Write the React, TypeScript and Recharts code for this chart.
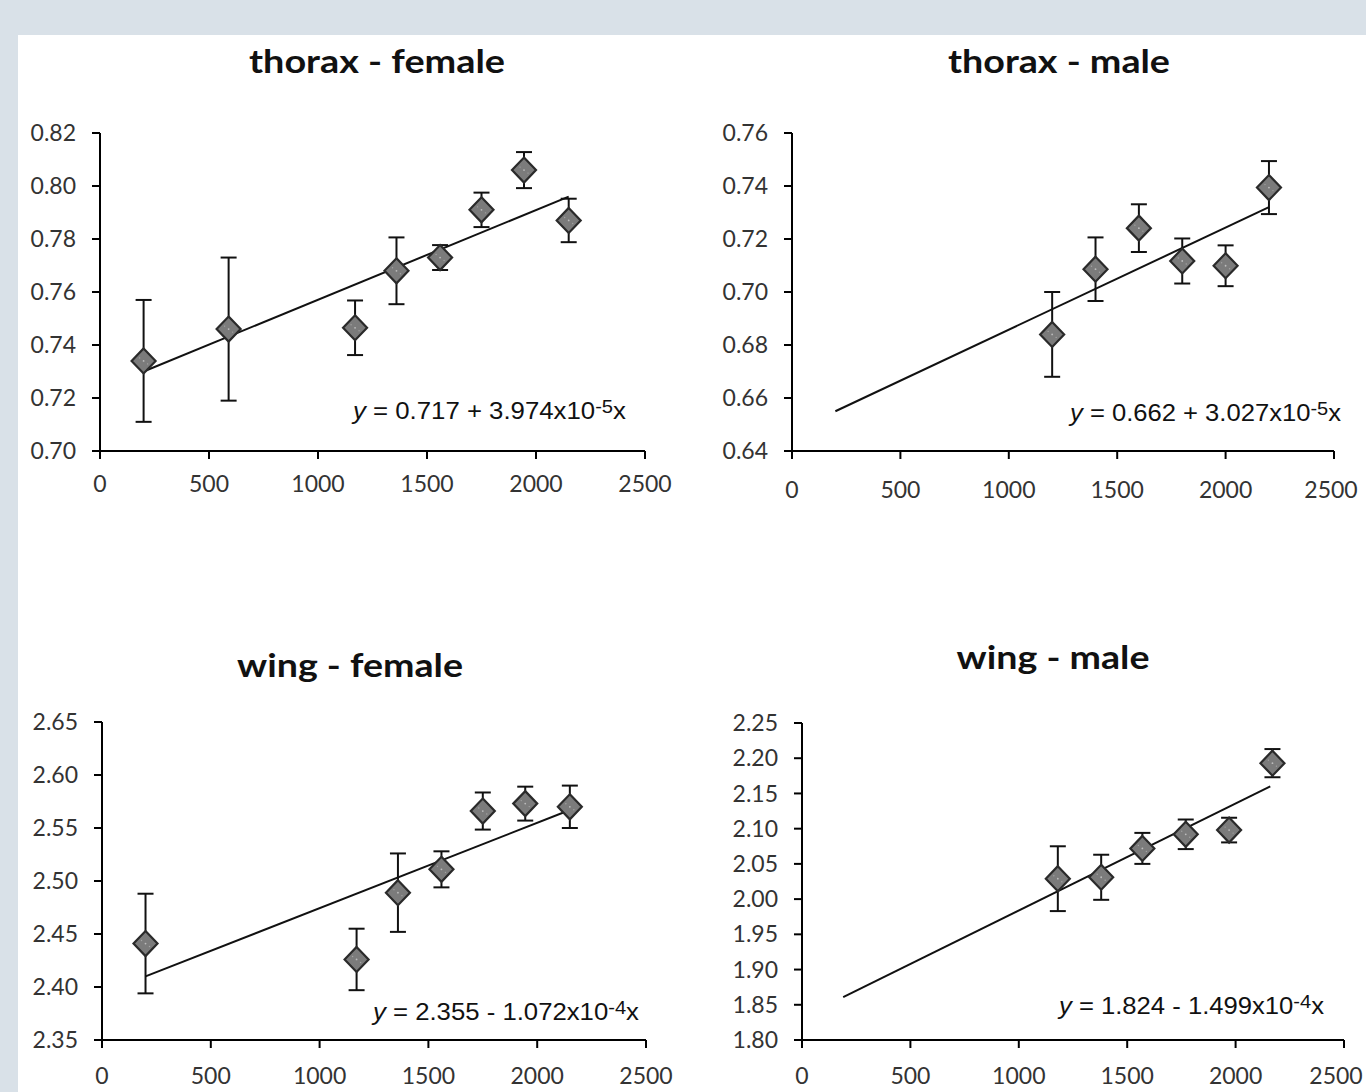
import React from 'react';
import { ScatterChart, Scatter, XAxis, YAxis, ErrorBar } from 'recharts';

// ---------- data ----------
const xTicks = [0, 500, 1000, 1500, 2000, 2500];

const thoraxFemaleX = [200, 590, 1170, 1360, 1560, 1750, 1945, 2150];
const thoraxFemaleY = [0.734, 0.746, 0.7465, 0.768, 0.773, 0.791, 0.806, 0.787];
const thoraxFemaleErr = [0.023, 0.027, 0.0103, 0.0126, 0.0047, 0.0065, 0.0068, 0.0082];
const thoraxFemaleTrendX = [200, 2150];
const thoraxFemaleTrendY = [0.730, 0.796];
const thoraxFemaleTicks = [0.70, 0.72, 0.74, 0.76, 0.78, 0.80, 0.82];

const thoraxMaleX = [1200, 1400, 1600, 1800, 2000, 2200];
const thoraxMaleY = [0.684, 0.7086, 0.7241, 0.7117, 0.7099, 0.7394];
const thoraxMaleErr = [0.016, 0.012, 0.009, 0.0085, 0.0077, 0.010];
const thoraxMaleTrendX = [200, 2200];
const thoraxMaleTrendY = [0.655, 0.732];
const thoraxMaleTicks = [0.64, 0.66, 0.68, 0.70, 0.72, 0.74, 0.76];

const wingFemaleX = [200, 1170, 1360, 1560, 1750, 1945, 2150];
const wingFemaleY = [2.441, 2.426, 2.489, 2.511, 2.566, 2.573, 2.570];
const wingFemaleErr = [0.047, 0.029, 0.037, 0.017, 0.0175, 0.016, 0.020];
const wingFemaleTrendX = [200, 2150];
const wingFemaleTrendY = [2.410, 2.567];
const wingFemaleTicks = [2.35, 2.40, 2.45, 2.50, 2.55, 2.60, 2.65];

const wingMaleX = [1180, 1380, 1570, 1770, 1970, 2170];
const wingMaleY = [2.029, 2.031, 2.072, 2.092, 2.098, 2.193];
const wingMaleErr = [0.046, 0.032, 0.022, 0.021, 0.0175, 0.020];
const wingMaleTrendX = [190, 2160];
const wingMaleTrendY = [1.861, 2.160];
const wingMaleTicks = [1.80, 1.85, 1.90, 1.95, 2.00, 2.05, 2.10, 2.15, 2.20, 2.25];

const titles = ['thorax - female', 'thorax - male', 'wing - female', 'wing - male'];
const eqIntercepts = ['0.717', '0.662', '2.355', '1.824'];
const eqSigns = ['+', '+', '-', '-'];
const eqSlopes = ['3.974', '3.027', '1.072', '1.499'];
const eqExps = ['-5', '-5', '-4', '-4'];

// ---------- helpers ----------
const zip = (xs: number[], ys: number[], es?: number[]) =>
  xs.map((x, i) => (es ? { x, y: ys[i], err: es[i] } : { x, y: ys[i] }));

const Diamond = (props: any) => {
  const { cx, cy } = props;
  if (cx == null || cy == null) return <g />;
  const w = 12;
  const h = 12.5;
  return (
    <g>
      <path
        d={`M${cx},${cy - h} L${cx + w},${cy} L${cx},${cy + h} L${cx - w},${cy} Z`}
        fill="#7b7b7b"
        stroke="#2a2a2a"
        strokeWidth={2.2}
      />
      <circle cx={cx} cy={cy} r={0.9} fill="#bdbdbd" />
      <circle cx={cx - 4} cy={cy - 3} r={0.7} fill="#a5a5a5" />
      <circle cx={cx + 4} cy={cy + 3} r={0.7} fill="#a5a5a5" />
    </g>
  );
};

const NoShape = () => <g />;

const TICK_FONT = 23;

const makeXTick = (lastShift: number) => (props: any) => {
  const { x, y, payload } = props;
  const shift = payload && payload.value === 2500 ? lastShift : 0;
  return (
    <text
      x={x + shift}
      y={y}
      dy="0.71em"
      textAnchor="middle"
      fill="#333"
      fontSize={TICK_FONT}
      fontFamily="Lato, sans-serif"
    >
      {payload.value}
    </text>
  );
};

type PanelProps = {
  left: number;
  top: number;
  width: number;
  height: number;
  margin: { top: number; right: number; bottom: number; left: number };
  yAxisWidth: number;
  xAxisHeight: number;
  xTickMargin: number;
  lastShift: number;
  yTicks: number[];
  points: any[];
  trend: any[];
  idx: number;
  titleX: number;
  titleY: number;
  titleLen: number;
  eqX: number;
  eqY: number;
  eqLen: number;
};

const Panel = (p: PanelProps) => {
  const i = p.idx;
  return (
    <div style={{ position: 'absolute', left: p.left, top: p.top }}>
      <ScatterChart width={p.width} height={p.height} margin={p.margin}>
        <XAxis
          type="number"
          dataKey="x"
          domain={[0, 2500]}
          ticks={xTicks}
          allowDataOverflow
          height={p.xAxisHeight}
          axisLine={{ stroke: '#000', strokeWidth: 2 }}
          tickLine={{ stroke: '#000', strokeWidth: 2 }}
          tickSize={8}
          tickMargin={p.xTickMargin}
          tick={makeXTick(p.lastShift)}
          interval={0}
        />
        <YAxis
          type="number"
          dataKey="y"
          domain={[p.yTicks[0], p.yTicks[p.yTicks.length - 1]]}
          ticks={p.yTicks}
          allowDataOverflow
          width={p.yAxisWidth}
          axisLine={{ stroke: '#000', strokeWidth: 2 }}
          tickLine={{ stroke: '#000', strokeWidth: 2 }}
          tickSize={8}
          tickMargin={16}
          tick={{ fill: '#333', fontSize: TICK_FONT, fontFamily: 'Lato, sans-serif' }}
          tickFormatter={(v: number) => v.toFixed(2)}
          interval={0}
        />
        <Scatter
          data={p.trend}
          line={{ stroke: '#111', strokeWidth: 2 }}
          shape={NoShape}
          isAnimationActive={false}
        />
        <Scatter data={p.points} shape={Diamond} isAnimationActive={false}>
          <ErrorBar
            dataKey="err"
            direction="y"
            width={8}
            stroke="#111"
            strokeWidth={2}
            isAnimationActive={false}
          />
        </Scatter>
        <text
          x={p.titleX}
          y={p.titleY}
          textAnchor="middle"
          textLength={p.titleLen}
          lengthAdjust="spacingAndGlyphs"
          fontFamily="Lato, sans-serif"
          fontWeight={700}
          fontSize={33}
          fill="#111"
        >
          {titles[i]}
        </text>
        <text
          x={p.eqX}
          y={p.eqY}
          fontFamily="'Liberation Sans', Arial, sans-serif"
          fontSize={23}
          fill="#111"
          textLength={p.eqLen}
          lengthAdjust="spacingAndGlyphs"
        >
          <tspan fontStyle="italic">y</tspan>
          <tspan>{` = ${eqIntercepts[i]} ${eqSigns[i]} ${eqSlopes[i]}x10`}</tspan>
          <tspan fontSize={18} dy={-6}>{eqExps[i]}</tspan>
          <tspan dy={6}>x</tspan>
        </text>
      </ScatterChart>
    </div>
  );
};

export default function App() {
  return (
    <div
      style={{
        position: 'absolute',
        left: 0,
        top: 0,
        width: 1366,
        height: 1092,
        background: '#d9e1e8',
        overflow: 'hidden',
      }}
    >
      <div
        style={{
          position: 'absolute',
          left: 18,
          top: 35,
          width: 1348,
          height: 1057,
          background: '#ffffff',
        }}
      />
      <Panel
        idx={0}
        left={18}
        top={35}
        width={665}
        height={500}
        margin={{ top: 98, right: 38, bottom: 34, left: 0 }}
        yAxisWidth={82}
        xAxisHeight={50}
        xTickMargin={17}
        lastShift={0}
        yTicks={thoraxFemaleTicks}
        points={zip(thoraxFemaleX, thoraxFemaleY, thoraxFemaleErr)}
        trend={zip(thoraxFemaleTrendX, thoraxFemaleTrendY)}
        titleX={359}
        titleY={38}
        titleLen={256}
        eqX={335}
        eqY={384}
        eqLen={273}
      />
      <Panel
        idx={1}
        left={683}
        top={35}
        width={683}
        height={500}
        margin={{ top: 98, right: 32, bottom: 34, left: 0 }}
        yAxisWidth={109}
        xAxisHeight={50}
        xTickMargin={23}
        lastShift={-3}
        yTicks={thoraxMaleTicks}
        points={zip(thoraxMaleX, thoraxMaleY, thoraxMaleErr)}
        trend={zip(thoraxMaleTrendX, thoraxMaleTrendY)}
        titleX={376}
        titleY={38}
        titleLen={222}
        eqX={387}
        eqY={386}
        eqLen={271}
      />
      <Panel
        idx={2}
        left={18}
        top={600}
        width={665}
        height={492}
        margin={{ top: 122, right: 37, bottom: 12, left: 0 }}
        yAxisWidth={84}
        xAxisHeight={40}
        xTickMargin={20}
        lastShift={0}
        yTicks={wingFemaleTicks}
        points={zip(wingFemaleX, wingFemaleY, wingFemaleErr)}
        trend={zip(wingFemaleTrendX, wingFemaleTrendY)}
        titleX={332}
        titleY={77}
        titleLen={226}
        eqX={355}
        eqY={420}
        eqLen={266}
      />
      <Panel
        idx={3}
        left={683}
        top={600}
        width={683}
        height={492}
        margin={{ top: 123, right: 22, bottom: 12, left: 0 }}
        yAxisWidth={119}
        xAxisHeight={40}
        xTickMargin={20}
        lastShift={-8}
        yTicks={wingMaleTicks}
        points={zip(wingMaleX, wingMaleY, wingMaleErr)}
        trend={zip(wingMaleTrendX, wingMaleTrendY)}
        titleX={370}
        titleY={69}
        titleLen={193}
        eqX={376}
        eqY={414}
        eqLen={265}
      />
    </div>
  );
}
